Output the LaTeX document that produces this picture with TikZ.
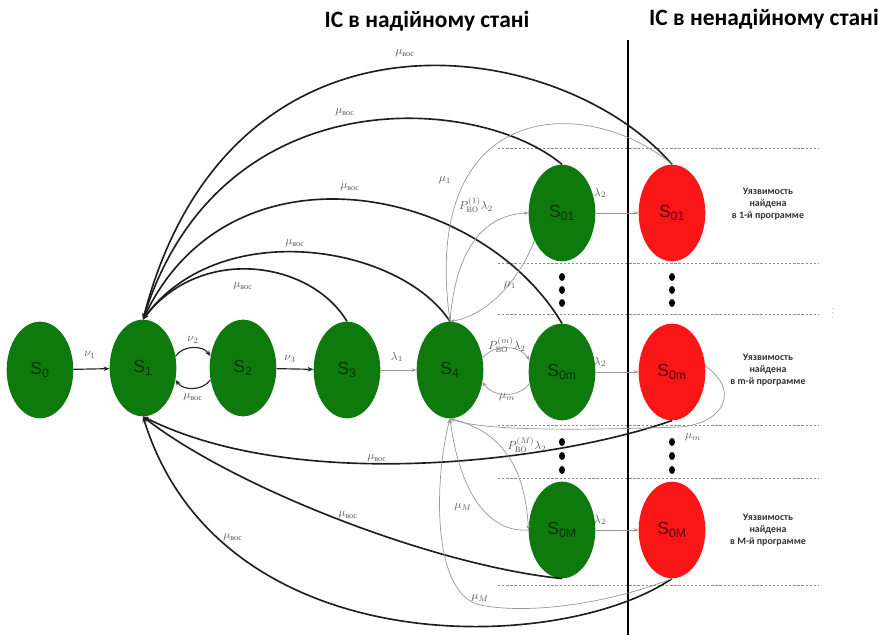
\documentclass[tikz,border=0pt]{standalone}
\usepackage{fontspec}
\usepackage{amsmath}
\setmainfont{Liberation Serif}
\newfontfamily\headfont{Carlito}
\newfontfamily\nodefont{Liberation Sans}
\usetikzlibrary{shapes.geometric,arrows.meta}
\definecolor{stategreen}{RGB}{14,122,14}
\definecolor{statered}{RGB}{250,22,22}
\definecolor{thinline}{RGB}{150,150,150}
\definecolor{thickline}{RGB}{30,30,30}
\begin{document}
\begin{tikzpicture}[x=0.03cm,y=0.03cm,
  good/.style={ellipse, fill=stategreen, minimum width=2cm, minimum height=2.9cm, inner sep=0pt,
    font=\nodefont\fontsize{15}{15}\selectfont, text=black!80!green},
  bad/.style={good, fill=statered, text=red!35!black},
  ret/.style={draw=thickline, line width=1.4pt, -{Stealth[length=5pt,width=4pt]}},
  flow/.style={draw=thinline, line width=0.6pt, -{Stealth[length=4pt,width=3pt]}},
  main/.style={draw=black!85, line width=1pt, -{Stealth[length=5pt,width=4pt]}},
  lab/.style={font=\fontsize{10}{10}\selectfont, text=black!65, inner sep=1pt},
  sep/.style={draw=black!45, line width=0.6pt, dash pattern=on 2pt off 1.5pt},
  note/.style={font=\headfont\bfseries\fontsize{8.5}{10.5}\selectfont, align=center, text=black!80},
  dot/.style={ellipse, fill=black, inner sep=0pt, minimum width=0.18cm, minimum height=0.24cm},
  head/.style={font=\headfont\bfseries\fontsize{20}{20}\selectfont}
]
\useasboundingbox (0,0) rectangle (885,635);

% headings and the boundary between the two groups of states
\node[head] (h1) at (427,614) {ІС в надійному стані};
\node[head] (h2) at (764,616) {ІС в ненадійному стані};
\coordinate (vtop) at (628,595);
\coordinate (vbot) at (628,0);
\draw[line width=1pt] (vtop) -- (vbot);

% dashed row separators
\foreach \yy in {487,372,321,210,157,50}
  \draw[sep] (498,\yy) -- (818,\yy);

% states
\node[good] (S0) at (40,265) {S\textsubscript{0}};
\node[good] (S1) at (143,267) {S\textsubscript{1}};
\node[good] (S2) at (243,267) {S\textsubscript{2}};
\node[good] (S3) at (347,265) {S\textsubscript{3}};
\node[good] (S4) at (450,265) {S\textsubscript{4}};
\node[good] (G1) at (562,422) {S\textsubscript{01}};
\node[good] (Gm) at (562,263) {S\textsubscript{0m}};
\node[good] (GM) at (562,105) {S\textsubscript{0M}};
\node[bad] (R1) at (672,422) {S\textsubscript{01}};
\node[bad] (Rm) at (672,263) {S\textsubscript{0m}};
\node[bad] (RM) at (672,105) {S\textsubscript{0M}};

% vertical ellipses between rows
\foreach \xx in {562,672}{
  \foreach \yy in {358,345,332,193,179,165}
    \node[dot] at (\xx,\yy) {};
}
\node[font=\fontsize{6}{6}\selectfont, text=black!60] (vd) at (833,325) {$\vdots$};

% row descriptions
\node[note] (n1) at (768,431) {Уязвимость\\найдена\\в 1-й программе};
\node[note] (n2) at (768,265) {Уязвимость\\найдена\\в m-й программе};
\node[note] (n3) at (768,105) {Уязвимость\\найдена\\в M-й программе};

% main chain
\draw[main] (S0) -- (S1);
\node[lab] (l01) at (90,280) {$\nu_1$};
\draw[main] (S1.20) to[bend left=55] (S2.160);
\node[lab] (l12) at (193,295) {$\nu_2$};
\draw[main] (S2.200) to[bend left=55] (S1.-20);
\node[lab] (l21) at (193,238) {$\mu_{\text{вос}}$};
\draw[main] (S2) -- (S3);
\node[lab] (l23) at (290,276) {$\nu_3$};
\draw[flow] (S3) -- (S4);
\node[lab] (l34) at (397,278) {$\lambda_1$};
\draw[flow] (S4.20) to[bend left=55] (Gm.160);
\node[lab] (l4m) at (507,290) {$P_{\text{ВО}}^{(m)}\lambda_2$};
\draw[flow] (Gm.200) to[bend left=55] (S4.-20);
\node[lab] (lm4) at (507,238) {$\mu_m$};

% transitions into the unreliable states
\draw[flow] (G1) -- (R1);
\draw[flow] (Gm) -- (Rm);
\draw[flow] (GM) -- (RM);
\node[lab] (la1) at (600,442) {$\lambda_2$};
\node[lab] (la2) at (600,273) {$\lambda_2$};
\node[lab] (la3) at (600,115) {$\lambda_2$};

% returns to S1 from above
\draw[ret] (R1.north) .. controls (560,600) and (230,650) .. (S1.north);
\node[lab] (r1) at (405,582) {$\mu_{\text{вос}}$};
\draw[ret] (G1.north) .. controls (480,540) and (220,560) .. (S1.north);
\node[lab] (r2) at (345,523) {$\mu_{\text{вос}}$};
\draw[ret] (Gm.north) .. controls (480,450) and (230,500) .. (S1.north);
\node[lab] (r3) at (350,448) {$\mu_{\text{вос}}$};
\draw[ret] (S4.north) .. controls (400,390) and (220,420) .. (S1.north);
\node[lab] (r4) at (295,392) {$\mu_{\text{вос}}$};
\draw[ret] (S3.north) .. controls (310,375) and (200,390) .. (S1.north);
\node[lab] (r5) at (243,349) {$\mu_{\text{вос}}$};

% returns to S1 from below
\draw[ret] (Rm.south) .. controls (560,175) and (300,140) .. (S1.south);
\node[lab] (b1) at (377,177) {$\mu_{\text{вос}}$};
\draw[ret] (GM.south) .. controls (430,70) and (230,150) .. (S1.south);
\node[lab] (b2) at (348,120) {$\mu_{\text{вос}}$};
\draw[ret] (RM.south) .. controls (560,-20) and (220,-30) .. (S1.south);
\node[lab] (b3) at (233,98) {$\mu_{\text{вос}}$};

% branch of the first program
\draw[flow] (R1.north) .. controls (590,540) and (420,540) .. (S4.north);
\node[lab] (g1) at (445,455) {$\mu_1$};
\draw[flow] (S4.north) .. controls (455,380) and (480,420) .. (G1.west);
\node[lab] (g2) at (476,430) {$P_{\text{ВО}}^{(1)}\lambda_2$};
\draw[flow] (G1.225) .. controls (515,345) and (480,318) .. (S4.north);
\node[lab] (g3) at (510,350) {$\mu_1$};

% branch of the m-th program
\draw[flow] (Rm.10) .. controls (740,245) and (725,212) .. (680,208)
  .. controls (560,204) and (480,205) .. (S4.south);
\node[lab] (g4) at (693,198) {$\mu_m$};

% branch of the M-th program
\draw[flow] (S4.south) .. controls (500,205) and (525,170) .. (GM.west);
\node[lab] (g5) at (527,190) {$P_{\text{ВО}}^{(M)}\lambda_2$};
\draw[flow] (GM.west) .. controls (490,102) and (460,140) .. (S4.south);
\node[lab] (g6) at (463,128) {$\mu_M$};
\draw[flow] (RM.south) .. controls (610,32) and (530,20) .. (480,30)
  .. controls (430,42) and (435,160) .. (S4.south);
\node[lab] (g7) at (480,37) {$\mu_M$};
\end{tikzpicture}
\end{document}
